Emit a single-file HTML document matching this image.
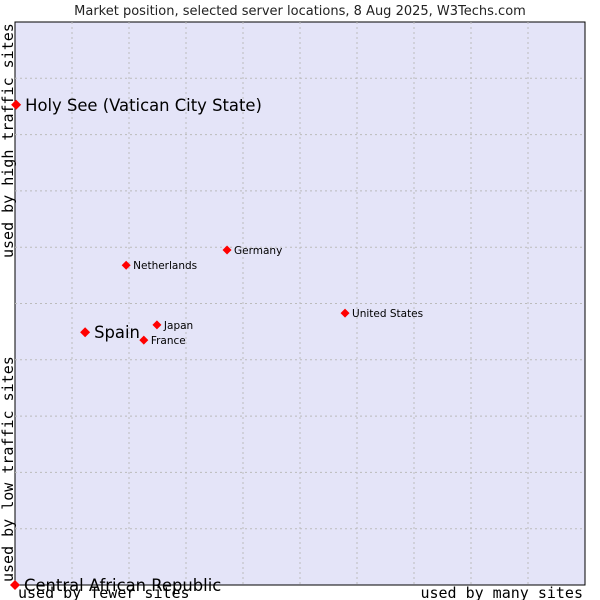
<!DOCTYPE html>
<html><head><meta charset="utf-8"><style>
body{margin:0;background:#fff}
svg{display:block}
</style></head><body>
<svg id="chart" width="600" height="600" xmlns="http://www.w3.org/2000/svg">
<rect x="0" y="0" width="600" height="600" fill="#fff"/>
<text x="300" y="15" text-anchor="middle" font-family="DejaVu Sans, sans-serif" font-size="13" fill="#222">Market position, selected server locations, 8 Aug 2025, W3Techs.com</text>
<rect x="15" y="22" width="570" height="563" fill="#e4e4f8" stroke="#000" stroke-width="1"/>
<g id="grid"></g>
<text x="18" y="598" font-family="DejaVu Sans Mono, monospace" font-size="15" fill="#000">used by fewer sites</text>
<text x="583" y="598" text-anchor="end" font-family="DejaVu Sans Mono, monospace" font-size="15" fill="#000">used by many sites</text>
<text transform="translate(13,582) rotate(-90)" font-family="DejaVu Sans Mono, monospace" font-size="15" fill="#000">used by low traffic sites</text>
<text transform="translate(13,258) rotate(-90)" font-family="DejaVu Sans Mono, monospace" font-size="15" fill="#000">used by high traffic sites</text>
<g id="points"></g>
</svg>
<script>
const countries = ["Holy See (Vatican City State)","Central African Republic","Spain","Netherlands","Germany","Japan","France","United States"];
const xValues = [0.2, 0, 12.3, 19.5, 37.2, 24.9, 22.6, 57.9];
const yValues = [85.3, 0, 44.9, 56.8, 59.5, 46.2, 43.5, 48.3];
const highlighted = [true, true, true, false, false, false, false, false];

const L=15,T=22,W=570,H=563;
const xs=v=>L+v/100*W;
const ys=v=>T+H-v/100*H;
const NS="http://www.w3.org/2000/svg";
const grid=document.getElementById('grid');
for(let i=1;i<10;i++){
  const v=document.createElementNS(NS,'line');
  v.setAttribute('x1',xs(i*10));v.setAttribute('x2',xs(i*10));
  v.setAttribute('y1',T);v.setAttribute('y2',T+H);
  v.setAttribute('stroke','#bbb');v.setAttribute('stroke-dasharray','2,3');
  
  
  grid.appendChild(v);
  const h=document.createElementNS(NS,'line');
  h.setAttribute('x1',L);h.setAttribute('x2',L+W);
  h.setAttribute('y1',ys(i*10));h.setAttribute('y2',ys(i*10));
  h.setAttribute('stroke','#bbb');h.setAttribute('stroke-dasharray','2,3');
  
  
  grid.appendChild(h);
}
const pts=document.getElementById('points');
countries.forEach((c,i)=>{
  const x=xs(xValues[i]),y=ys(yValues[i]);
  const big=highlighted[i];
  const r=big?5:4.5;
  const d=document.createElementNS(NS,'polygon');
  d.setAttribute('points',`${x},${y-r} ${x+r},${y} ${x},${y+r} ${x-r},${y}`);
  d.setAttribute('fill','#f00');
  
  
  pts.appendChild(d);
  const t=document.createElementNS(NS,'text');
  t.setAttribute('x',x+(big?9:7));
  t.setAttribute('y',y+(big?6:4));
  t.setAttribute('font-family','DejaVu Sans, sans-serif');
  t.setAttribute('font-size',big?'16.4':'10.5');
  t.setAttribute('fill','#000');
  t.textContent=c;
  
  
  pts.appendChild(t);
});
</script>
</body></html>
